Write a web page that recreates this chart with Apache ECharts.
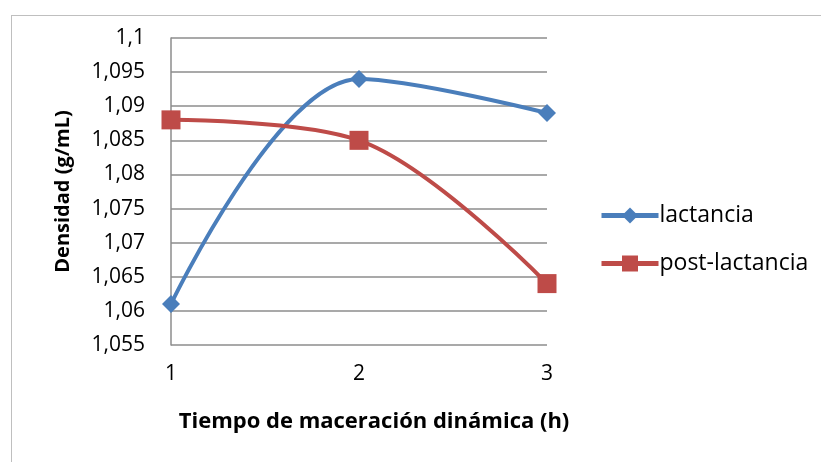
<!DOCTYPE html>
<html><head><meta charset="utf-8">
<script src="https://cdn.jsdelivr.net/npm/echarts@6/dist/echarts.min.js"></script>
<style>html,body{margin:0;padding:0;background:#fff}#c{width:821px;height:462px;}
#frame{position:absolute;left:11px;top:15px;width:830px;height:460px;border:1px solid #bfbfbf;box-sizing:border-box;pointer-events:none}</style>
</head><body><div id="c"></div><div id="frame"></div>
<script>
const xValues = [1, 2, 3];
const lactancia = [1.061, 1.094, 1.089];
const postLactancia = [1.088, 1.085, 1.064];
const seriesNames = ['lactancia', 'post-lactancia'];
const yTicks = [1.055, 1.06, 1.065, 1.07, 1.075, 1.08, 1.085, 1.09, 1.095, 1.1];

const chart = echarts.init(document.getElementById('c'));
const fmt = v => String(Math.round(v * 1000) / 1000).replace('.', ',');
const font = '"Open Sans", sans-serif';
chart.setOption({
  animation: false,
  grid: { left: 171, right: 274, top: 38, bottom: 117 },
  legend: {
    orient: 'vertical', left: 594, top: 199, itemGap: 25,
    itemWidth: 57, itemHeight: 20,
    lineStyle: { width: 5 },
    textStyle: { fontSize: 23, fontFamily: font, color: '#000', padding: [0,0,0,-4] },
    data: seriesNames
  },
  xAxis: {
    type: 'value', min: 1, max: 3, interval: 1,
    name: 'Tiempo de maceración dinámica (h)', nameLocation: 'middle', nameGap: 66,
    nameTextStyle: { fontSize: 22, fontWeight: 'bold', fontFamily: font, color: '#000', padding: [0, 0, 0, 30] },
    axisLine: { show: false }, axisTick: { show: false }, splitLine: { show: false },
    axisLabel: { fontSize: 21, fontFamily: font, color: '#000', margin: 19 }
  },
  yAxis: {
    type: 'value', min: 1.055, max: 1.1, interval: 0.005,
    name: 'Densidad (g/mL)', nameLocation: 'middle', nameGap: 98, nameRotate: 90,
    nameTextStyle: { fontSize: 20, fontWeight: 'bold', fontFamily: font, color: '#000' },
    axisLine: { show: true, lineStyle: { color: '#8c8c8c', width: 1.5 } },
    axisTick: { show: false },
    splitLine: { lineStyle: { color: '#8c8c8c', width: 1.5 } },
    axisLabel: { fontSize: 21, fontFamily: font, color: '#000', margin: 26, formatter: fmt }
  },
  series: [
    { name: seriesNames[0], type: 'line', smooth: 0.35,
      data: xValues.map((x, i) => [x, lactancia[i]]),
      symbol: 'diamond', symbolSize: 18,
      lineStyle: { color: '#4A7EBB', width: 4 }, itemStyle: { color: '#4A7EBB' } },
    { name: seriesNames[1], type: 'line', smooth: 0.35,
      data: xValues.map((x, i) => [x, postLactancia[i]]),
      symbol: 'rect', symbolSize: 19,
      lineStyle: { color: '#BE4B48', width: 4 }, itemStyle: { color: '#BE4B48' } }
  ]
});
</script></body></html>
